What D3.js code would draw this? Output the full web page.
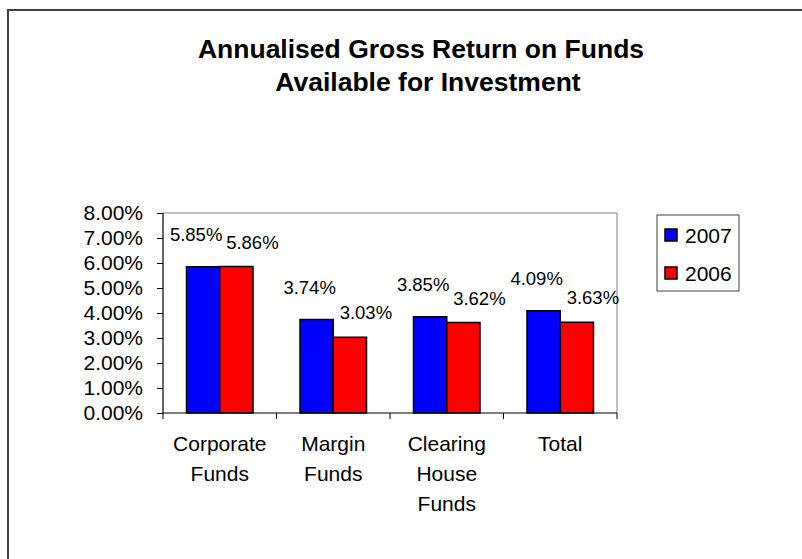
<!DOCTYPE html>
<html>
<head>
<meta charset="utf-8">
<script src="https://cdn.jsdelivr.net/npm/d3@7"></script>
<style>
  body { margin: 0; background: #fff; }
  text { font-family: "Liberation Sans", Arial, sans-serif; }
</style>
</head>
<body>
<div id="container"></div>
<script>
const categories = [["Corporate", "Funds"], ["Margin", "Funds"], ["Clearing", "House", "Funds"], ["Total"]];
const seriesNames = ["2007", "2006"];
const values2007 = [5.85, 3.74, 3.85, 4.09];
const values2006 = [5.86, 3.03, 3.62, 3.63];
const yTicks = [0, 1, 2, 3, 4, 5, 6, 7, 8];
const titleLines = ["Annualised Gross Return on Funds", "Available for Investment"];

const w = 802, h = 559;
const colors = ["#0000ff", "#ff0000"];
const plotL = 163, plotR = 617, plotT = 213, plotB = 413;

const svg = d3.select('#container').append('svg')
  .attr('width', w).attr('height', h);

svg.append('rect').attr('width', w).attr('height', h).attr('fill', '#fff');

// outer chart border
svg.append('rect')
  .attr('x', 8).attr('y', 10).attr('width', 820).attr('height', 580)
  .attr('fill', 'none').attr('stroke', '#404040').attr('stroke-width', 2);

// title
svg.append('text')
  .attr('x', 421).attr('y', 58)
  .attr('text-anchor', 'middle')
  .attr('font-size', 26.5).attr('font-weight', 'bold')
  .text(titleLines[0]);
svg.append('text')
  .attr('x', 428).attr('y', 91)
  .attr('text-anchor', 'middle')
  .attr('font-size', 26.5).attr('font-weight', 'bold')
  .text(titleLines[1]);

const idx = d3.range(categories.length);
const xScale = d3.scaleBand().domain(idx).range([plotL, plotR]).paddingInner(0).paddingOuter(0);
const inner = d3.scaleBand().domain([0, 1]).range([23.5, xScale.bandwidth() - 23.5]);
const yScale = d3.scaleLinear().domain([0, 8]).range([plotB, plotT]);

// plot area frame (top/right gray)
svg.append('path')
  .attr('d', `M${plotL},${plotT}H${plotR}V${plotB}`)
  .attr('fill', 'none').attr('stroke', '#808080').attr('stroke-width', 1);

const data = idx.map(i => [values2007[i], values2006[i]]);

const groups = svg.selectAll('g.cat').data(data).join('g')
  .attr('class', 'cat')
  .attr('transform', (d, i) => `translate(${xScale(i)},0)`);

groups.selectAll('rect').data(d => d).join('rect')
  .attr('x', (d, j) => inner(j))
  .attr('y', d => yScale(d))
  .attr('width', inner.bandwidth())
  .attr('height', d => plotB - yScale(d))
  .attr('fill', (d, j) => colors[j])
  .attr('stroke', '#000').attr('stroke-width', 1.5);

groups.selectAll('text.lbl').data(d => d).join('text')
  .attr('class', 'lbl')
  .attr('x', (d, j) => inner(j) + inner.bandwidth() / 2 + (j === 0 ? -7 : 16))
  .attr('y', (d, j) => yScale(d) + (j === 0 ? -26 : -18))
  .attr('text-anchor', 'middle')
  .attr('font-size', 18.5)
  .text(d => d.toFixed(2) + '%');

// y axis
const yAxis = d3.axisLeft(yScale).tickValues(yTicks).tickSize(6).tickPadding(14)
  .tickFormat(d => d.toFixed(2) + '%');
const gy = svg.append('g').attr('transform', `translate(${plotL},0)`).call(yAxis);
gy.select('.domain').attr('stroke', '#000').attr('stroke-width', 1.2).attr('d', `M0,${plotT}V${plotB}`);
gy.selectAll('.tick line').attr('stroke', '#000');
gy.selectAll('.tick text').attr('font-size', 21).attr('fill', '#000')
  .style('font-family', '"Liberation Sans", Arial, sans-serif');

// x axis
const gx = svg.append('g').attr('transform', `translate(0,${plotB})`);
gx.append('line').attr('x1', plotL).attr('x2', plotR).attr('stroke', '#000').attr('stroke-width', 1.2);
const bounds = idx.map(i => xScale(i)).concat([plotR]);
gx.selectAll('line.tk').data(bounds).join('line')
  .attr('class', 'tk')
  .attr('x1', d => d).attr('x2', d => d).attr('y1', 0).attr('y2', 6)
  .attr('stroke', '#000');
gx.selectAll('text.cat').data(categories).join('text')
  .attr('class', 'cat')
  .attr('text-anchor', 'middle')
  .attr('font-size', 21)
  .attr('transform', (d, i) => `translate(${xScale(i) + xScale.bandwidth() / 2},0)`)
  .selectAll('tspan').data(d => d).join('tspan')
  .attr('x', 0).attr('y', (d, k) => 37.5 + k * 30)
  .text(d => d);

// legend
const lg = svg.append('g').attr('transform', 'translate(657,215)');
lg.append('rect').attr('width', 82).attr('height', 76)
  .attr('fill', '#fff').attr('stroke', '#404040').attr('stroke-width', 1);
seriesNames.forEach((s, j) => {
  lg.append('rect').attr('x', 8).attr('y', 14 + j * 38).attr('width', 12).attr('height', 12)
    .attr('fill', colors[j]).attr('stroke', '#000').attr('stroke-width', 1.5);
  lg.append('text').attr('x', 28).attr('y', 27.5 + j * 38).attr('font-size', 21).text(s);
});
</script>
</body>
</html>
